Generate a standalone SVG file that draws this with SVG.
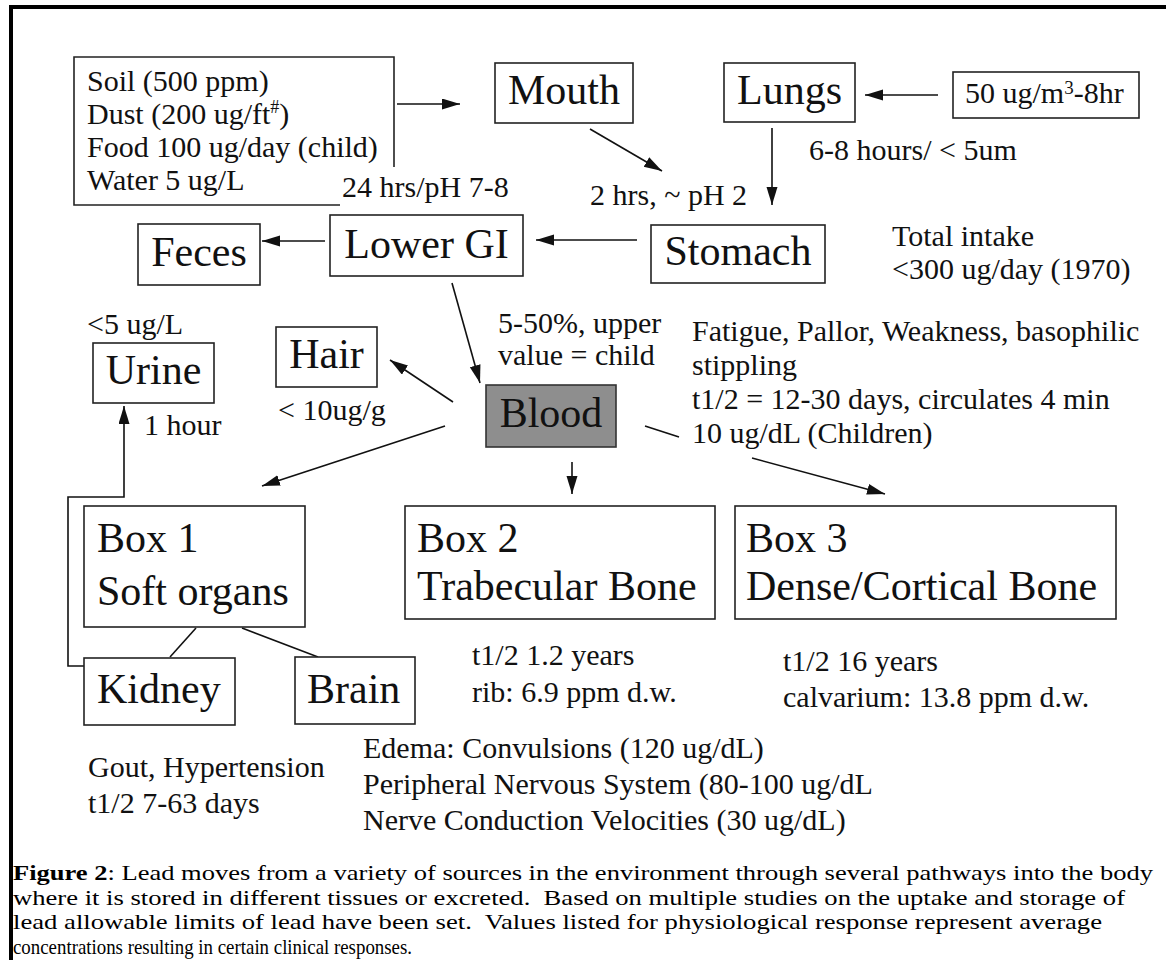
<svg xmlns="http://www.w3.org/2000/svg" width="1166" height="962" viewBox="0 0 1166 962">
<style>
.box{fill:#fff;stroke:#222;stroke-width:1.6}
.lbl{font-family:"Liberation Serif","Times New Roman",serif;font-size:42px;fill:#111}
.t{font-family:"Liberation Serif","Times New Roman",serif;font-size:30px;fill:#111}
.cap{font-family:"Liberation Serif","Times New Roman",serif;font-size:22px;fill:#000}
.c{fill:none;stroke:#111;stroke-width:1.6}
.mid{text-anchor:middle}
</style>
<defs>
<marker id="ah" markerUnits="userSpaceOnUse" markerWidth="20" markerHeight="12" refX="18" refY="5.5" orient="auto">
<path d="M0,0 L18,5.5 L0,11 z" fill="#111"/>
</marker>
</defs>
<rect width="1166" height="962" fill="#fff"/>
<g id="frame">
<rect x="9" y="5" width="1157" height="4" fill="#000"/>
<rect x="9" y="5" width="4" height="955" fill="#000"/>
</g>
<g id="connectors">
<line class="c" x1="397" y1="104" x2="460" y2="104" marker-end="url(#ah)"/>
<line class="c" x1="590" y1="129" x2="662" y2="171" marker-end="url(#ah)"/>
<line class="c" x1="772" y1="128" x2="772" y2="205" marker-end="url(#ah)"/>
<line class="c" x1="938" y1="95" x2="865" y2="95" marker-end="url(#ah)"/>
<line class="c" x1="637" y1="240" x2="536" y2="240" marker-end="url(#ah)"/>
<line class="c" x1="325" y1="241" x2="262" y2="241" marker-end="url(#ah)"/>
<line class="c" x1="452" y1="283" x2="480" y2="383" marker-end="url(#ah)"/>
<line class="c" x1="453" y1="402" x2="390" y2="360" marker-end="url(#ah)"/>
<line class="c" x1="445" y1="426" x2="262" y2="486" marker-end="url(#ah)"/>
<line class="c" x1="572" y1="462" x2="572" y2="494" marker-end="url(#ah)"/>
<line class="c" x1="752" y1="458" x2="885" y2="494" marker-end="url(#ah)"/>
<line class="c" x1="645" y1="426" x2="679" y2="437"/>
<line class="c" x1="196" y1="628" x2="170" y2="657"/>
<line class="c" x1="242" y1="628" x2="318" y2="657"/>
<polyline class="c" points="84,666 68,666 68,497 124,497 124,406" marker-end="url(#ah)"/>
</g>
<g id="sources">
<path d="M394,167 V57 H74 V205 H340" fill="none" stroke="#222" stroke-width="1.6"/>
<text class="t" x="87" y="91">Soil (500 ppm)</text>
<text class="t" x="87" y="124">Dust (200 ug/ft<tspan font-size="18" dy="-11">#</tspan><tspan dy="11">)</tspan></text>
<text class="t" x="87" y="157">Food 100 ug/day (child)</text>
<text class="t" x="87" y="190">Water 5 ug/L</text>
</g>
<g id="mouth">
<rect class="box" x="495" y="63" width="138" height="60"/>
<text class="lbl mid" x="564" y="104">Mouth</text>
</g>
<g id="lungs">
<rect class="box" x="724" y="63" width="131" height="59"/>
<text class="lbl mid" x="789.5" y="104">Lungs</text>
</g>
<g id="air">
<rect class="box" x="953" y="72" width="186" height="46"/>
<text class="t" x="965" y="103">50 ug/m<tspan font-size="19" dy="-9">3</tspan><tspan dy="9">-8hr</tspan></text>
</g>
<g id="stomach">
<rect class="box" x="651" y="225" width="174" height="58"/>
<text class="lbl mid" x="738" y="265">Stomach</text>
</g>
<g id="lowergi">
<rect class="box" x="330" y="215" width="193" height="61"/>
<text class="lbl mid" x="426.5" y="258">Lower GI</text>
</g>
<g id="feces">
<rect class="box" x="138" y="224" width="122" height="61"/>
<text class="lbl mid" x="199" y="266">Feces</text>
</g>
<g id="urine">
<rect class="box" x="93" y="343" width="121" height="60"/>
<text class="lbl mid" x="153.5" y="384">Urine</text>
</g>
<g id="hair">
<rect class="box" x="276" y="327" width="101" height="60"/>
<text class="lbl mid" x="326.5" y="368">Hair</text>
</g>
<g id="blood">
<rect x="486" y="385" width="130" height="62" fill="#8e8e8e" stroke="#333" stroke-width="1.6"/>
<text class="lbl mid" x="551" y="427">Blood</text>
</g>
<g id="box1">
<rect class="box" x="84" y="506" width="221" height="121"/>
<text class="lbl" x="97" y="552">Box 1</text>
<text class="lbl" x="97" y="605">Soft organs</text>
</g>
<g id="box2">
<rect class="box" x="405" y="506" width="310" height="113"/>
<text class="lbl" x="417" y="552">Box 2</text>
<text class="lbl" x="417" y="600">Trabecular Bone</text>
</g>
<g id="box3">
<rect class="box" x="735" y="506" width="381" height="113"/>
<text class="lbl" x="746" y="552">Box 3</text>
<text class="lbl" x="746" y="600">Dense/Cortical Bone</text>
</g>
<g id="kidney">
<rect class="box" x="84" y="658" width="151" height="67"/>
<text class="lbl" x="97" y="703">Kidney</text>
</g>
<g id="brain">
<rect class="box" x="295" y="657" width="120" height="67"/>
<text class="lbl" x="307" y="703">Brain</text>
</g>
<g id="labels">
<text class="t" x="342" y="197">24 hrs/pH 7-8</text>
<text class="t" x="590" y="205">2 hrs, ~ pH 2</text>
<text class="t" x="809" y="160">6-8 hours/ &lt; 5um</text>
<text class="t" x="892" y="246">Total intake</text>
<text class="t" x="892" y="279">&lt;300 ug/day (1970)</text>
<text class="t" x="87" y="334">&lt;5 ug/L</text>
<text class="t" x="144" y="435">1 hour</text>
<text class="t" x="278" y="420">&lt; 10ug/g</text>
<text class="t" x="498" y="333">5-50%, upper</text>
<text class="t" x="498" y="365">value = child</text>
<text class="t" x="692" y="341">Fatigue, Pallor, Weakness, basophilic</text>
<text class="t" x="692" y="375">stippling</text>
<text class="t" x="692" y="409">t1/2 = 12-30 days, circulates 4 min</text>
<text class="t" x="692" y="443">10 ug/dL (Children)</text>
<text class="t" x="472" y="665">t1/2 1.2 years</text>
<text class="t" x="472" y="702">rib: 6.9 ppm d.w.</text>
<text class="t" x="783" y="671">t1/2 16 years</text>
<text class="t" x="783" y="707">calvarium: 13.8 ppm d.w.</text>
<text class="t" x="88" y="777">Gout, Hypertension</text>
<text class="t" x="88" y="813">t1/2 7-63 days</text>
<text class="t" x="363" y="758">Edema: Convulsions (120 ug/dL)</text>
<text class="t" x="363" y="794">Peripheral Nervous System (80-100 ug/dL</text>
<text class="t" x="363" y="830">Nerve Conduction Velocities (30 ug/dL)</text>
</g>
<g id="caption">
<text class="cap" x="13" y="880" textLength="1140" lengthAdjust="spacingAndGlyphs"><tspan font-weight="bold">Figure 2</tspan>: Lead moves from a variety of sources in the environment through several pathways into the body</text>
<text class="cap" x="13" y="904.5" textLength="1112" lengthAdjust="spacingAndGlyphs" xml:space="preserve">where it is stored in different tissues or excreted.  Based on multiple studies on the uptake and storage of</text>
<text class="cap" x="13" y="929" textLength="1089" lengthAdjust="spacingAndGlyphs" xml:space="preserve">lead allowable limits of lead have been set.  Values listed for physiological response represent average</text>
<text class="cap" x="13" y="953.5" textLength="399" lengthAdjust="spacingAndGlyphs">concentrations resulting in certain clinical responses.</text>
</g>
</svg>
